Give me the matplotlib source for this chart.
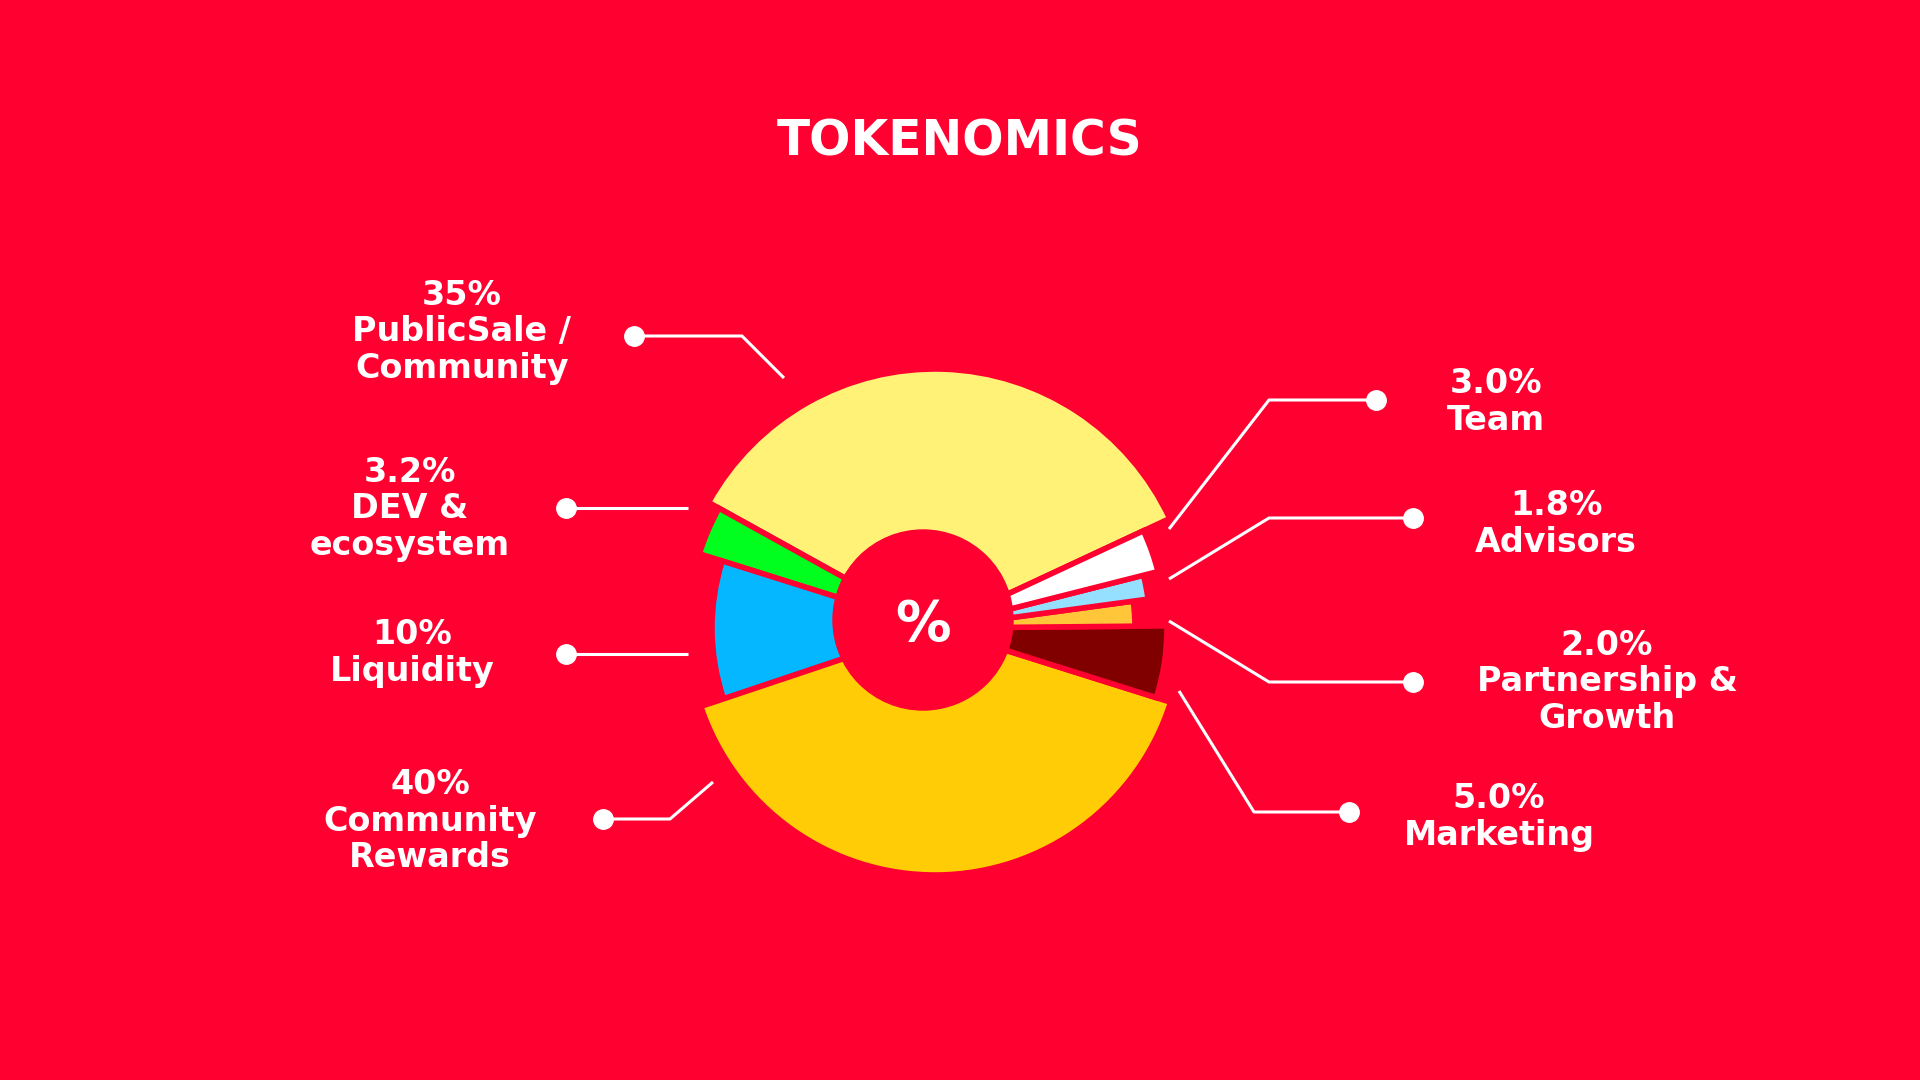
import matplotlib
matplotlib.use("Agg")
import matplotlib.pyplot as plt
from matplotlib.patches import Circle

# données de la répartition (ordre anti-horaire à partir de la droite)
categories = ["PublicSale /\nCommunity", "DEV &\necosystem", "Liquidity",
              "Community\nRewards", "Marketing", "Partnership &\nGrowth",
              "Advisors", "Team"]
shares = [35, 3.2, 10, 40, 5.0, 2.0, 1.8, 3.0]
pct_labels = ["35%", "3.2%", "10%", "40%", "5.0%", "2.0%", "1.8%", "3.0%"]

# style
bg = "#FF0031"
colors = ["#FFF276", "#00FF1E", "#05B7FF", "#FFCC05",
          "#800000", "#FFC63A", "#96E0FF", "#FFFFFF"]
radii = [259, 247, 223, 247, 232, 200, 215, 230]   # rayon extérieur de chaque part
cx, cy = 935, 628
hole_xy, hole_r = (923, 620), 90

# mise en page des étiquettes (pixels de l'image) : texte, point, coude, bout de ligne
label_xy = [(462, 332), (410, 509), (412, 653), (430, 821),
            (1499, 817), (1607, 682), (1556, 524), (1496, 402)]
leader_pts = [
    [(634, 336), (742, 336), (784, 378)],
    [(566, 508), (688, 508)],
    [(566, 654), (688, 654)],
    [(603, 819), (670, 819), (713, 782)],
    [(1349, 812), (1254, 812), (1179, 691)],
    [(1413, 682), (1269, 682), (1169, 621)],
    [(1413, 518), (1269, 518), (1169, 579)],
    [(1376, 400), (1269, 400), (1169, 529)],
]

fig = plt.figure(figsize=(19.2, 10.8), dpi=100, facecolor=bg)
ax = fig.add_axes([0, 0, 1, 1])
ax.set_facecolor(bg)

wedges, _ = ax.pie(shares, colors=colors, startangle=-25, counterclock=False,
                   center=(cx, cy), radius=max(radii),
                   wedgeprops=dict(edgecolor=bg, linewidth=4))
for w, r in zip(wedges, radii):
    w.set_radius(r)

# trou central
ax.add_patch(Circle(hole_xy, hole_r, color=bg, zorder=2))

ax.set_xlim(0, 1920)
ax.set_ylim(1080, 0)
ax.set_aspect("equal")
ax.axis("off")

# lignes de rappel
for pts in leader_pts:
    xs = [p[0] for p in pts]
    ys = [p[1] for p in pts]
    ax.plot(xs, ys, color="white", lw=2.2, solid_capstyle="butt", zorder=3)
    ax.plot(xs[0], ys[0], "o", color="white", ms=14, zorder=4)

for (x, y), pct, cat in zip(label_xy, pct_labels, categories):
    ax.text(x, y, pct + "\n" + cat, ha="center", va="center", color="white",
            fontsize=24, fontweight="bold", family="DejaVu Sans", linespacing=1.12)

ax.text(hole_xy[0], 625, "%", ha="center", va="center", color="white",
        fontsize=40, fontweight="bold", family="DejaVu Sans", zorder=5)

ax.text(960, 142, "TOKENOMICS", ha="center", va="center", color="white",
        fontsize=35, fontweight="bold", family="DejaVu Sans")

fig.savefig("out.png", dpi=100, facecolor=bg)
